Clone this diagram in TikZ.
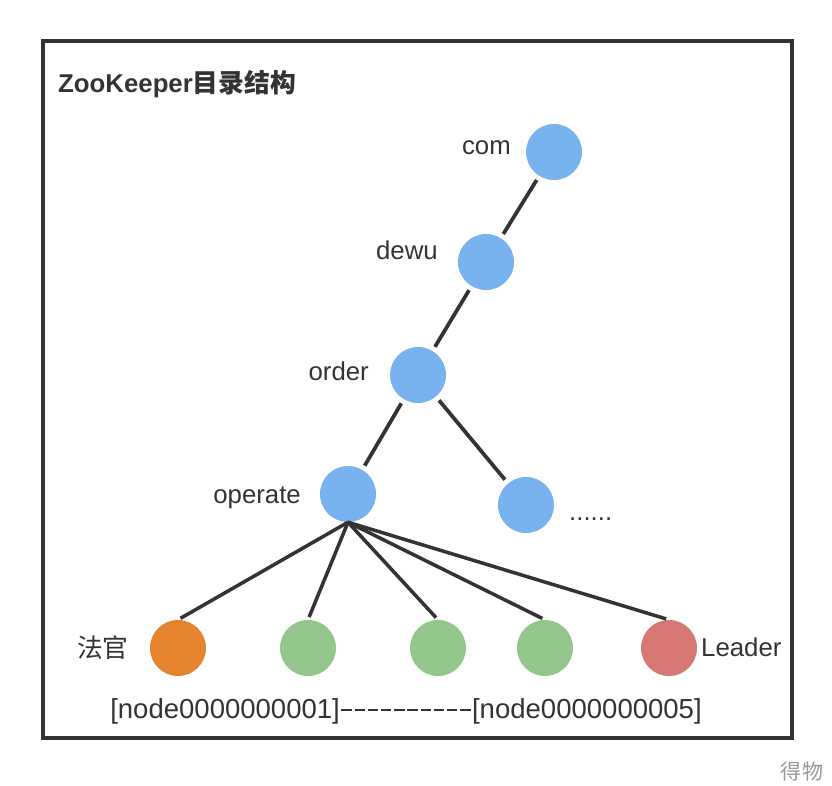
\documentclass[tikz,border=0pt]{standalone}
\usepackage{fontspec}
\setmainfont{Liberation Sans}
\newfontfamily\cjk{Noto Sans CJK SC}
\definecolor{ink}{HTML}{333333}
\definecolor{zkblue}{HTML}{78B2EF}
\definecolor{zkorange}{HTML}{E5832F}
\definecolor{zkgreen}{HTML}{92C68A}
\definecolor{zkred}{HTML}{D67774}
\newcommand{\seqdash}{\makebox[0.48em]{\rule[0.27em]{0.38em}{0.065em}}}
\tikzset{
  zk/.style={circle,minimum size=1.68cm,inner sep=0pt},
  lbl/.style={inner sep=0pt,text=ink,font=\fontsize{22}{26}\selectfont},
  edge/.style={ink,line width=3.2pt,shorten >=4pt,shorten <=4pt},
  leaf/.style={ink,line width=3pt,shorten >=2.5pt}
}
\begin{document}
\begin{tikzpicture}[x=0.03cm,y=-0.03cm]
\useasboundingbox (0,0) rectangle (832,786);
\draw[ink,line width=3.4pt] (43,41) rectangle (792,738);
\node[lbl,anchor=base west] (title) at (58,93) {\bfseries ZooKeeper{\cjk 目录结构}};
% tree
\node[zk,fill=zkblue] (com) at (554,152) {};
\node[lbl,anchor=base east] (comlbl) at (511,154) {com};
\node[zk,fill=zkblue] (dewu) at (486,262) {};
\node[lbl,anchor=base east] (dewulbl) at (438,259) {dewu};
\node[zk,fill=zkblue] (order) at (418,375) {};
\node[lbl,anchor=base east] (orderlbl) at (369,380) {order};
\node[zk,fill=zkblue] (operate) at (348,494) {};
\node[lbl,anchor=base east] (operatelbl) at (301,503) {operate};
\node[zk,fill=zkblue] (more) at (526,505) {};
\node[lbl,anchor=base west] (morelbl) at (569,520) {......};
\draw[edge] (com) -- (dewu);
\draw[edge] (dewu) -- (order);
\draw[edge] (order) -- (operate);
\draw[edge] (order) -- (more);
% sequential nodes
\node[zk,fill=zkorange] (judge) at (178,648) {};
\node[lbl,anchor=east] (judgelbl) at (129,648) {\cjk 法官};
\node[zk,fill=zkgreen] (seq2) at (308,648) {};
\node[zk,fill=zkgreen] (seq3) at (438,648) {};
\node[zk,fill=zkgreen] (seq4) at (545,648) {};
\node[zk,fill=zkred] (leader) at (669,648) {};
\node[lbl,anchor=base west] (leaderlbl) at (701,656) {Leader};
\foreach \n in {judge,seq2,seq3,seq4,leader}
  \draw[leaf] (operate.south) -- (\n.north);
\node[lbl,anchor=base,font=\fontsize{23.5}{26}\selectfont] (range) at (406,718) {[node0000000001]\seqdash\seqdash\seqdash\seqdash\seqdash\seqdash\seqdash\seqdash\seqdash\seqdash[node0000000005]};
\node[inner sep=0pt,text=black!40,font=\cjk\fontsize{18}{20}\selectfont] (mark) at (802,771) {得物};
\end{tikzpicture}
\end{document}
